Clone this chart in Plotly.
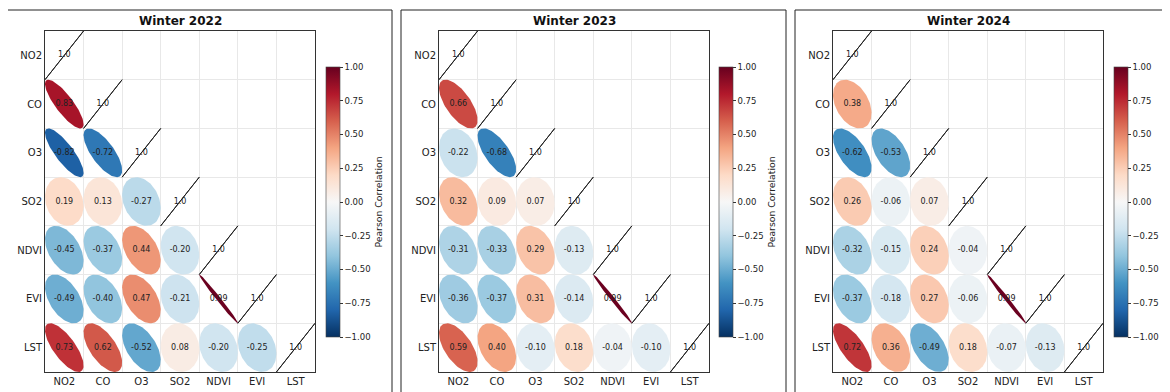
import numpy as np
import plotly.graph_objects as go

variables = ["NO2", "CO", "O3", "SO2", "NDVI", "EVI", "LST"]
titles = ["Winter 2022", "Winter 2023", "Winter 2024"]

# Lower-triangle correlations (row i, columns 0..i-1); diagonal is 1.0
corr_2022 = [
    [],
    [0.83],
    [-0.82, -0.72],
    [0.19, 0.13, -0.27],
    [-0.45, -0.37, 0.44, -0.20],
    [-0.49, -0.40, 0.47, -0.21, 0.99],
    [0.73, 0.62, -0.52, 0.08, -0.20, -0.25],
]
corr_2023 = [
    [],
    [0.66],
    [-0.22, -0.68],
    [0.32, 0.09, 0.07],
    [-0.31, -0.33, 0.29, -0.13],
    [-0.36, -0.37, 0.31, -0.14, 0.99],
    [0.59, 0.40, -0.10, 0.18, -0.04, -0.10],
]
corr_2024 = [
    [],
    [0.38],
    [-0.62, -0.53],
    [0.26, -0.06, 0.07],
    [-0.32, -0.15, 0.24, -0.04],
    [-0.37, -0.18, 0.27, -0.06, 0.99],
    [0.72, 0.36, -0.49, 0.18, -0.07, -0.13],
]
panels = [corr_2022, corr_2023, corr_2024]

cbar_ticks = [-1.0, -0.75, -0.5, -0.25, 0.0, 0.25, 0.5, 0.75, 1.0]

# matplotlib RdBu_r (ColorBrewer 11)
rdbu_r = ["#053061", "#2166ac", "#4393c3", "#92c5de", "#d1e5f0", "#f7f7f7",
          "#fddbc7", "#f4a582", "#d6604d", "#b2182b", "#67001f"]
colorscale = [[k / (len(rdbu_r) - 1), c] for k, c in enumerate(rdbu_r)]


def hex2rgb(h):
    h = h.lstrip("#")
    return np.array([int(h[i:i + 2], 16) for i in (0, 2, 4)], dtype=float)


stops_rgb = [hex2rgb(c) for c in rdbu_r]


def cmap(v):
    t = (v + 1) / 2 * (len(rdbu_r) - 1)
    t = min(max(t, 0), len(rdbu_r) - 1)
    k = min(int(np.floor(t)), len(rdbu_r) - 2)
    f = t - k
    rgb = stops_rgb[k] * (1 - f) + stops_rgb[k + 1] * f
    return "rgb(%d,%d,%d)" % tuple(np.round(rgb))


def ellipse(cx, cy, r, direction):
    t = np.linspace(0, 2 * np.pi, 90)
    a = 0.5 * np.sqrt(1 + abs(r))
    b = 0.5 * np.sqrt(max(1 - abs(r), 0))
    u = np.array(direction) / np.sqrt(2)
    v = np.array([u[1], -u[0]])
    xs = cx + a * np.cos(t) * u[0] + b * np.sin(t) * v[0]
    ys = cy + a * np.cos(t) * u[1] + b * np.sin(t) * v[1]
    return xs, ys


W, H = 1170, 392
OFF = 8  # page body margin offset
plot_left = [45 - OFF, 439 - OFF, 833 - OFF]
plot_w = 270
plot_top, plot_bot = 31 - OFF, 372 - OFF
cbar_left = [326 - OFF, 719 - OFF, 1114 - OFF]
cbar_top, cbar_bot = 67 - OFF, 337 - OFF
box_left = [7 - OFF, 401 - OFF, 795 - OFF]
box_top = 10 - OFF
title_y = 21 - OFF
box_w = 385

fig = go.Figure()
n = len(variables)
font_fam = "DejaVu Sans"

for p, corr in enumerate(panels):
    xa = "x" if p == 0 else "x%d" % (p + 1)
    ya = "y" if p == 0 else "y%d" % (p + 1)
    tx, ty, tt = [], [], []
    cx_all, cy_all, cv_all = [], [], []
    for i in range(n):
        for j in range(i):
            r = corr[i][j]
            xs, ys = ellipse(j, i, r, (1, 1))
            fig.add_trace(go.Scatter(x=xs, y=ys, mode="lines", fill="toself",
                                     fillcolor=cmap(r), line=dict(width=0, color=cmap(r)),
                                     hoverinfo="skip", showlegend=False, xaxis=xa, yaxis=ya))
            tx.append(j); ty.append(i); tt.append("%.2f" % r)
            cx_all.append(j); cy_all.append(i); cv_all.append(r)
        # diagonal (r = 1.0) degenerate ellipse
        xs, ys = ellipse(i, i, 1.0, (1, -1))
        fig.add_trace(go.Scatter(x=xs, y=ys, mode="lines",
                                 line=dict(width=1, color="#222222"),
                                 hoverinfo="skip", showlegend=False, xaxis=xa, yaxis=ya))
        tx.append(i); ty.append(i); tt.append("1.0")
        cx_all.append(i); cy_all.append(i); cv_all.append(1.0)
    fig.add_trace(go.Scatter(x=tx, y=ty, text=tt, mode="text",
                             textfont=dict(size=8, color="#222222", family=font_fam),
                             hoverinfo="skip", showlegend=False, xaxis=xa, yaxis=ya))
    # colorbar carrier
    fig.add_trace(go.Scatter(
        x=cx_all, y=cy_all, mode="markers",
        marker=dict(size=1, opacity=0, color=cv_all, colorscale=colorscale, cmin=-1, cmax=1,
                    showscale=True,
                    colorbar=dict(
                        x=cbar_left[p] / W, xanchor="left", xpad=0, ypad=0,
                        y=1 - (cbar_top + cbar_bot) / 2 / H, yanchor="middle",
                        len=(cbar_bot - cbar_top) / H, lenmode="fraction",
                        thickness=14, thicknessmode="pixels",
                        outlinewidth=0.6, outlinecolor="#444444",
                        tickmode="array", tickvals=cbar_ticks,
                        ticktext=[("%.2f" % v).replace("-", "\u2212") for v in cbar_ticks],
                        ticks="outside", ticklen=3, tickcolor="#333333",
                        tickfont=dict(size=8.5, color="#222222", family=font_fam),
                        title=dict(text="Pearson Correlation", side="right",
                                   font=dict(size=9.3, color="#222222", family=font_fam)),
                    )),
        hoverinfo="skip", showlegend=False, xaxis=xa, yaxis=ya))

    axis_common = dict(
        tickmode="array", tickvals=list(range(n)), ticktext=variables,
        showgrid=False, zeroline=False, showline=True, mirror=True,
        linecolor="#333333", linewidth=1, ticks="",
        tickfont=dict(size=10, color="#222222", family=font_fam),
        minor=dict(tick0=0.5, dtick=1, showgrid=True, gridcolor="#e8e8e8", gridwidth=1, ticks=""),
        fixedrange=True,
    )
    xkey = "xaxis" if p == 0 else "xaxis%d" % (p + 1)
    ykey = "yaxis" if p == 0 else "yaxis%d" % (p + 1)
    fig.update_layout(**{
        xkey: dict(domain=[plot_left[p] / W, (plot_left[p] + plot_w) / W],
                   range=[-0.5, n - 0.5], anchor=ya, **axis_common),
        ykey: dict(domain=[1 - plot_bot / H, 1 - plot_top / H],
                   range=[n - 0.5, -0.5], anchor=xa, **axis_common),
    })
    fig.add_annotation(text="<b>%s</b>" % titles[p], xref="paper", yref="paper",
                       x=(plot_left[p] + plot_w / 2) / W, y=1 - title_y / H,
                       showarrow=False, xanchor="center", yanchor="middle",
                       font=dict(size=12, color="#111111", family=font_fam))
    fig.add_shape(type="rect", xref="paper", yref="paper",
                  x0=box_left[p] / W, x1=(box_left[p] + box_w) / W,
                  y0=-0.2, y1=1 - box_top / H, line=dict(color="#222222", width=1),
                  fillcolor="rgba(0,0,0,0)", layer="below")

fig.update_layout(width=W, height=H, margin=dict(l=0, r=0, t=0, b=0),
                  paper_bgcolor="white", plot_bgcolor="white",
                  font=dict(family=font_fam, color="#222222"), showlegend=False)

fig.write_html("out.html")
